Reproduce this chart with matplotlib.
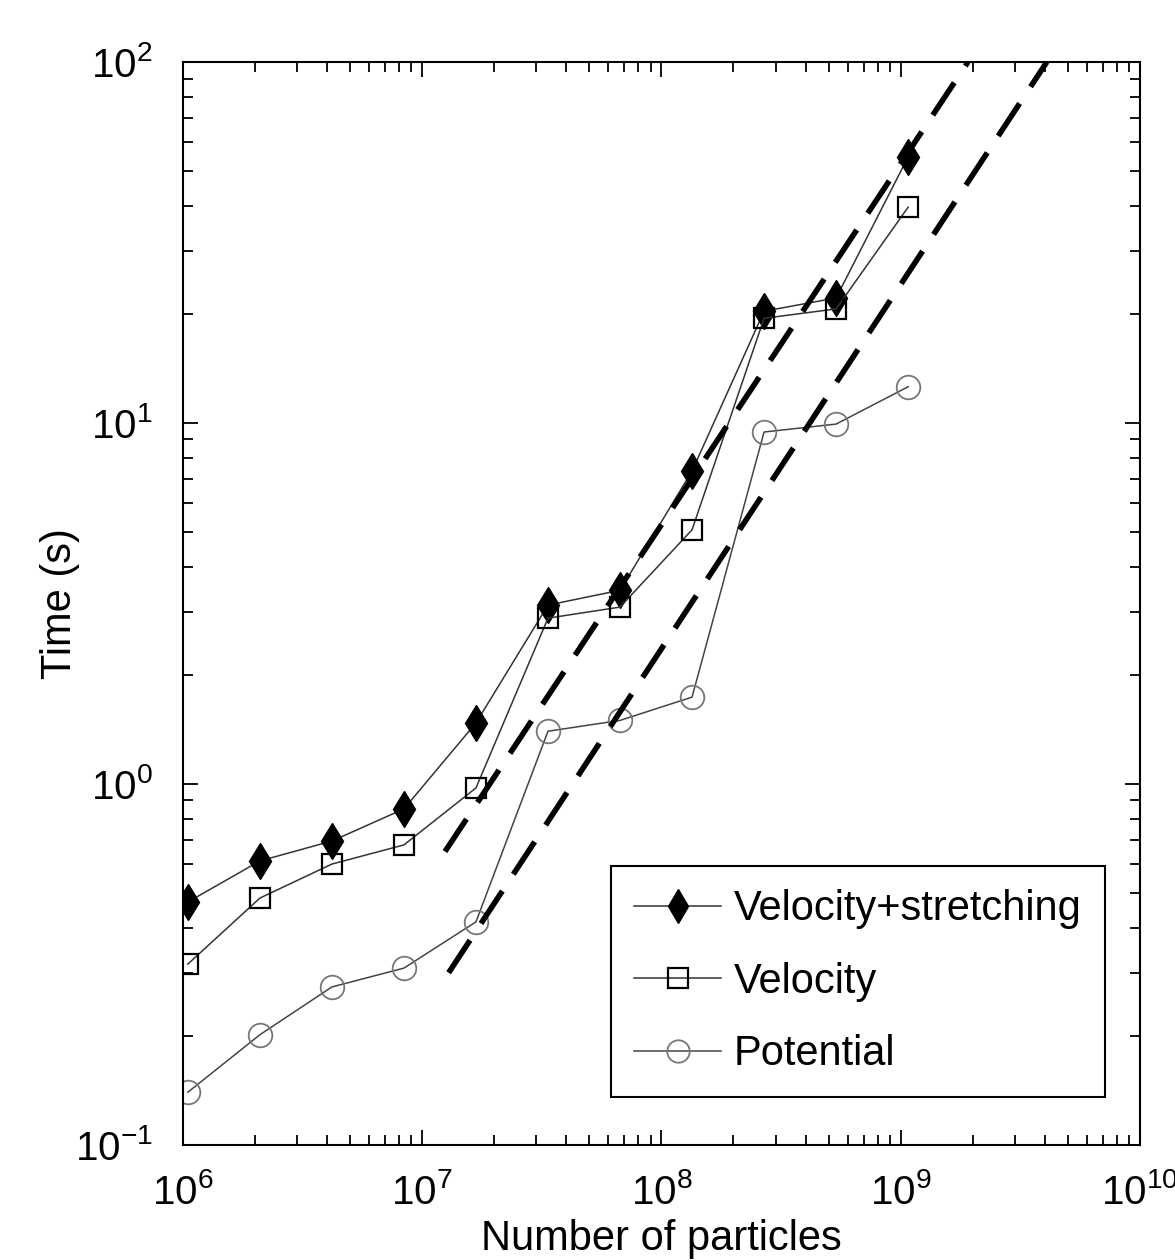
import matplotlib
matplotlib.use("Agg")
import matplotlib.pyplot as plt
from matplotlib.ticker import LogLocator, NullFormatter

plt.rcParams['font.family'] = ['Liberation Sans', 'DejaVu Sans']
plt.rcParams['mathtext.default'] = 'regular'

# numero de particulas (2^20 ... 2^30)
particles = [2**k for k in range(20, 31)]

# tiempos (s)
t_vel_stretch = [0.471, 0.612, 0.695, 0.853, 1.476, 3.13, 3.44, 7.36, 20.4, 22.2, 54.6]
t_velocity = [0.317, 0.483, 0.600, 0.678, 0.975, 2.88, 3.09, 5.06, 19.5, 20.7, 39.6]
t_potential = [0.140, 0.202, 0.274, 0.309, 0.415, 1.40, 1.50, 1.74, 9.44, 9.93, 12.6]

# rectas de referencia O(N), extremos
ref1_x = [1.245e7, 1.91e9]
ref1_y = [0.65, 100.0]
ref2_x = [1.29e7, 4.08e9]
ref2_y = [0.300, 100.0]

fig = plt.figure(figsize=(11.75, 12.6), dpi=100)
ax = fig.add_axes([0.1557, 0.0913, 0.8145, 0.8595])

ax.plot(particles, t_vel_stretch, '-', color='#333333', lw=1.1,
        marker='d', ms=18, mfc='black', mec='black', label='Velocity+stretching')
ax.plot(particles, t_velocity, '-', color='#333333', lw=1.1,
        marker='s', ms=15, mfc='none', mec='black', mew=1.6, label='Velocity')
ax.plot(particles, t_potential, '-', color='#444444', lw=1.1,
        marker='o', ms=17, mfc='none', mec='#777777', mew=1.3, label='Potential')

ax.plot(ref1_x, ref1_y, '--', color='black', lw=4.0, dashes=(7, 3.6), zorder=5)
ax.plot(ref2_x, ref2_y, '--', color='black', lw=4.0, dashes=(7, 3.6), zorder=5)

ax.set_xscale('log')
ax.set_yscale('log')
ax.set_xlim(1e6, 1e10)
ax.set_ylim(0.1, 100)

ax.xaxis.set_major_locator(LogLocator(base=10, numticks=10))
ax.xaxis.set_minor_locator(LogLocator(base=10, subs=range(2, 10), numticks=50))
ax.yaxis.set_minor_locator(LogLocator(base=10, subs=range(2, 10), numticks=50))
ax.xaxis.set_minor_formatter(NullFormatter())
ax.yaxis.set_minor_formatter(NullFormatter())

ax.tick_params(which='both', direction='in', top=True, right=True, width=1.3)
ax.tick_params(which='major', length=11, labelsize=29)
ax.tick_params(which='minor', length=7)
ax.tick_params(axis='y', which='major', pad=22)
ax.tick_params(axis='x', which='major', pad=20)
for s in ax.spines.values():
    s.set_linewidth(1.5)

ax.set_xlabel('Number of particles', fontsize=30, labelpad=5)
ax.set_ylabel('Time (s)', fontsize=30, labelpad=-4)

leg = ax.legend(loc='lower right', bbox_to_anchor=(0.963, 0.044), borderaxespad=0,
                fontsize=30, fancybox=False, edgecolor='black', framealpha=1,
                handlelength=2.1, handletextpad=0.3, labelspacing=0.78,
                borderpad=0.55, markerscale=0.95)
leg.get_frame().set_linewidth(1.5)

fig.savefig('out.png', dpi=100)
